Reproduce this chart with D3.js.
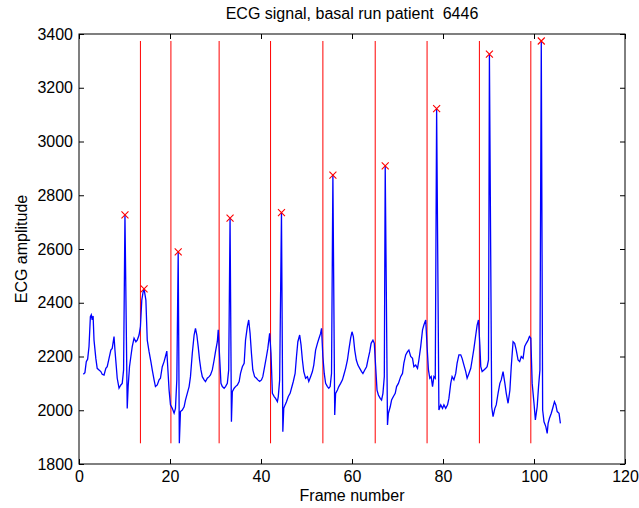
<!DOCTYPE html>
<html>
<head>
<meta charset="utf-8">
<script src="https://cdn.jsdelivr.net/npm/d3@7"></script>
<style>
  body { margin: 0; background: #fff; }
  text { font-family: "Liberation Sans", Arial, sans-serif; fill: #000; }
</style>
</head>
<body>
<div id="chart"></div>
<script>

// ECG trace (frame number, amplitude)
var frames = [
  0.95, 1.3, 1.6, 1.9, 2.2, 2.5, 2.7, 2.9, 3.1, 3.3, 3.7, 4.0, 4.4, 4.8, 5.1, 5.5, 5.9, 6.2, 6.6, 7.0,
  7.3, 7.7, 7.9, 8.2, 8.4, 8.8, 9.2, 9.5, 9.8, 10.1, 10.6, 10.8, 11.1, 11.4, 11.7, 12.1, 12.5, 12.8, 13.2, 13.5,
  13.8, 14.1, 14.3, 14.7, 15.0, 15.4, 15.8, 16.1, 16.5, 16.8, 17.2, 17.6, 17.9, 18.3, 18.7, 19.0, 19.3, 19.5, 19.8, 20.1,
  20.5, 20.9, 21.2, 21.5, 21.8, 22.05, 22.3, 22.7, 23.1, 23.4, 23.8, 24.2, 24.5, 24.9, 25.3, 25.6, 25.9, 26.2, 26.5, 26.8,
  27.1, 27.5, 27.8, 28.2, 28.6, 28.9, 29.3, 29.7, 30.0, 30.4, 30.6, 30.9, 31.2, 31.5, 31.9, 32.2, 32.6, 32.9, 33.2, 33.5,
  33.7, 34.1, 34.4, 34.8, 35.2, 35.5, 35.9, 36.3, 36.6, 37.0, 37.3, 37.6, 37.9, 38.2, 38.6, 39.0, 39.3, 39.7, 40.1, 40.4,
  40.8, 41.2, 41.5, 41.9, 42.2, 42.5, 42.9, 43.2, 43.6, 43.8, 44.1, 44.5, 44.8, 45.0, 45.3, 45.6, 46.0, 46.4, 46.7, 47.1,
  47.5, 47.8, 48.1, 48.5, 48.8, 49.1, 49.4, 49.8, 50.2, 50.5, 50.9, 51.3, 51.6, 52.0, 52.4, 52.75, 53.1, 53.3, 53.6, 53.9,
  54.2, 54.6, 54.9, 55.2, 55.5, 55.8, 56.2, 56.4, 56.8, 57.1, 57.5, 57.9, 58.2, 58.6, 59.0, 59.3, 59.7, 60.0, 60.3, 60.6,
  60.95, 61.3, 61.7, 62.1, 62.4, 62.8, 63.2, 63.5, 63.9, 64.2, 64.6, 64.9, 65.2, 65.5, 65.8, 66.2, 66.5, 66.8, 67.1, 67.3,
  67.8, 68.0, 68.4, 68.7, 69.1, 69.5, 69.8, 70.2, 70.7, 71.1, 71.4, 71.8, 72.2, 72.5, 72.9, 73.3, 73.6, 74.0, 74.4, 74.7,
  75.1, 75.5, 75.8, 76.2, 76.5, 76.8, 77.1, 77.4, 77.7, 78.0, 78.3, 78.6, 79.1, 79.5, 79.9, 80.2, 80.6, 81.0, 81.3, 81.7,
  82.0, 82.4, 82.8, 83.1, 83.5, 83.9, 84.2, 84.6, 85.0, 85.3, 85.7, 86.1, 86.4, 86.8, 87.2, 87.5, 87.8, 88.1, 88.3, 88.6,
  89.0, 89.4, 89.7, 90.0, 90.2, 90.7, 91.0, 91.4, 91.7, 92.1, 92.5, 92.8, 93.2, 93.6, 93.9, 94.3, 94.7, 95.0, 95.4, 95.75,
  96.1, 96.5, 96.85, 97.2, 97.6, 97.95, 98.3, 98.7, 99.0, 99.3, 99.6, 100.0, 100.3, 100.7, 101.0, 101.3, 101.6, 101.9, 102.2, 102.6,
  102.9, 103.1, 103.4, 103.8, 104.2, 104.5, 104.8, 105.1, 105.5, 105.8
];
var amplitude = [
  2134, 2140, 2181, 2190, 2237, 2348, 2355, 2336, 2351, 2261, 2193, 2156, 2150, 2144, 2134, 2131, 2156, 2162, 2193, 2224,
  2230, 2274, 2224, 2162, 2119, 2082, 2094, 2100, 2150, 2727, 2007, 2088, 2162, 2200, 2237, 2268, 2255, 2261, 2280, 2311,
  2410, 2441, 2452, 2410, 2261, 2218, 2181, 2150, 2113, 2088, 2094, 2113, 2119, 2162, 2181, 2200, 2220, 2162, 2075, 2020,
  2007, 1989, 2007, 2113, 2589, 1877, 1995, 2001, 2013, 2038, 2063, 2088, 2125, 2212, 2280, 2305, 2280, 2237, 2187, 2150,
  2125, 2113, 2107, 2119, 2125, 2131, 2150, 2187, 2218, 2255, 2299, 2200, 2100, 2088, 2082, 2088, 2100, 2150, 2715, 1957,
  2069, 2082, 2088, 2094, 2107, 2137, 2162, 2175, 2261, 2311, 2336, 2286, 2212, 2150, 2125, 2119, 2113, 2107, 2113, 2125,
  2162, 2200, 2230, 2286, 2212, 2063, 2051, 2044, 2032, 2051, 2113, 2735, 1920, 2007, 2020, 2032, 2051, 2063, 2082, 2107,
  2137, 2200, 2255, 2280, 2243, 2187, 2144, 2119, 2125, 2107, 2125, 2144, 2168, 2224, 2249, 2268, 2286, 2305, 2200, 2137,
  2100, 2088, 2082, 2088, 2137, 2875, 1982, 2063, 2075, 2088, 2100, 2113, 2131, 2156, 2187, 2224, 2268, 2292, 2274, 2224,
  2187, 2168, 2156, 2144, 2137, 2150, 2162, 2187, 2218, 2249, 2261, 2249, 2162, 2075, 2057, 2044, 2038, 2063, 2125, 2909,
  1945, 1989, 2013, 2038, 2051, 2063, 2088, 2100, 2125, 2137, 2175, 2206, 2218, 2224, 2200, 2193, 2162, 2168, 2156, 2187,
  2237, 2299, 2317, 2336, 2237, 2150, 2119, 2125, 2088, 2125, 2119, 3122, 2001, 2020, 2007, 2020, 2007, 2020, 2044, 2100,
  2125, 2113, 2137, 2175, 2206, 2206, 2193, 2168, 2144, 2119, 2137, 2156, 2187, 2230, 2280, 2317, 2336, 2243, 2162, 2144,
  2150, 2156, 2162, 2187, 3325, 2013, 1976, 2007, 2020, 2063, 2100, 2113, 2144, 2100, 2063, 2026, 2075, 2162, 2255, 2249,
  2224, 2187, 2181, 2200, 2193, 2237, 2249, 2261, 2274, 2268, 2100, 2026, 1964, 2013, 2088, 2150, 3374, 2001, 1957, 1939,
  1914, 1951, 1970, 1989, 2013, 2032, 2020, 1995, 1989, 1951
];

// R peaks (red crosses)
var peakFrames = [10.1, 14.3, 21.8, 33.2, 44.5, 55.8, 67.3, 78.6, 90.2, 101.6];
var peakValues = [2727, 2452, 2589, 2715, 2735, 2875, 2909, 3122, 3325, 3374];

// beat boundaries (red vertical lines)
var beatFrames = [13.5, 20.2, 30.8, 42.1, 53.6, 65.1, 76.5, 88.0, 99.3];

var xTicks = [0, 20, 40, 60, 80, 100, 120];
var yTicks = [1800, 2000, 2200, 2400, 2600, 2800, 3000, 3200, 3400];

function main() {
    var width = 639, height = 508;
    var margin = { top: 34, right: 14, bottom: 44, left: 79 };
    var w = width - margin.left - margin.right,
        h = height - margin.top - margin.bottom;

    var svg = d3.select("#chart")
      .append("svg")
      .attr("width", width)
      .attr("height", height);

    var g = svg.append("g")
      .attr("transform", "translate(" + margin.left + "," + margin.top + ")");

    var x = d3.scaleLinear().domain([0, 120]).range([0, w]);
    var y = d3.scaleLinear().domain([1800, 3400]).range([h, 0]);

    var signal = frames.map(function (f, i) { return [f, amplitude[i]]; });
    var ext = d3.extent(amplitude);

    // vertical beat lines, min to max of the signal
    g.selectAll("line.beat")
      .data(beatFrames)
      .enter()
      .append("line")
      .attr("class", "beat")
      .attr("x1", function (d) { return x(d); })
      .attr("x2", function (d) { return x(d); })
      .attr("y1", y(ext[0]))
      .attr("y2", y(ext[1]))
      .style("stroke", "#ff0000")
      .style("stroke-width", 1);

    // the signal
    g.append("path")
      .datum(signal)
      .attr("d", d3.line()
        .x(function (d) { return x(d[0]); })
        .y(function (d) { return y(d[1]); }))
      .style("fill", "none")
      .style("stroke", "#0000ff")
      .style("stroke-width", 1.3);

    // peak crosses
    var s = 3.5;
    g.selectAll("path.peak")
      .data(peakFrames)
      .enter()
      .append("path")
      .attr("class", "peak")
      .attr("d", function (d, i) {
        var px = x(d), py = y(peakValues[i]);
        return "M" + (px - s) + "," + (py - s) + "L" + (px + s) + "," + (py + s) +
               "M" + (px - s) + "," + (py + s) + "L" + (px + s) + "," + (py - s);
      })
      .style("stroke", "#ff0000")
      .style("stroke-width", 1.1)
      .style("fill", "none");

    // box axes, ticks inward like matlab
    var tk = 5, fmt = d3.format("d");
    g.append("g")
      .attr("transform", "translate(0," + h + ")")
      .call(d3.axisBottom(x).tickValues(xTicks).tickFormat(fmt).tickSizeInner(-tk).tickSizeOuter(0).tickPadding(7));
    g.append("g")
      .call(d3.axisTop(x).tickValues(xTicks).tickSizeInner(-tk).tickSizeOuter(0).tickFormat(""));
    g.append("g")
      .call(d3.axisLeft(y).tickValues(yTicks).tickFormat(fmt).tickSizeInner(-tk).tickSizeOuter(0).tickPadding(6));
    g.append("g")
      .attr("transform", "translate(" + w + ",0)")
      .call(d3.axisRight(y).tickValues(yTicks).tickSizeInner(-tk).tickSizeOuter(0).tickFormat(""));

    g.append("rect")
      .attr("width", w)
      .attr("height", h)
      .style("fill", "none")
      .style("stroke", "#000")
      .style("stroke-width", 1);

    g.selectAll(".domain").remove();
    g.selectAll(".tick line").style("stroke", "#000");
    g.selectAll(".tick text")
      .style("font-family", "Liberation Sans, Arial, sans-serif")
      .style("font-size", "16px")
      .style("fill", "#000");

    // labels
    svg.append("text")
      .attr("x", margin.left + w / 2)
      .attr("y", 19)
      .attr("text-anchor", "middle")
      .style("font-size", "16px")
      .style("white-space", "pre")
      .text("ECG signal, basal run patient  6446");

    svg.append("text")
      .attr("x", margin.left + w / 2)
      .attr("y", 501)
      .attr("text-anchor", "middle")
      .style("font-size", "16px")
      .text("Frame number");

    svg.append("text")
      .attr("transform", "translate(27," + (margin.top + h / 2) + ") rotate(-90)")
      .attr("text-anchor", "middle")
      .style("font-size", "16px")
      .text("ECG amplitude");
}

main();
</script>
</body>
</html>
